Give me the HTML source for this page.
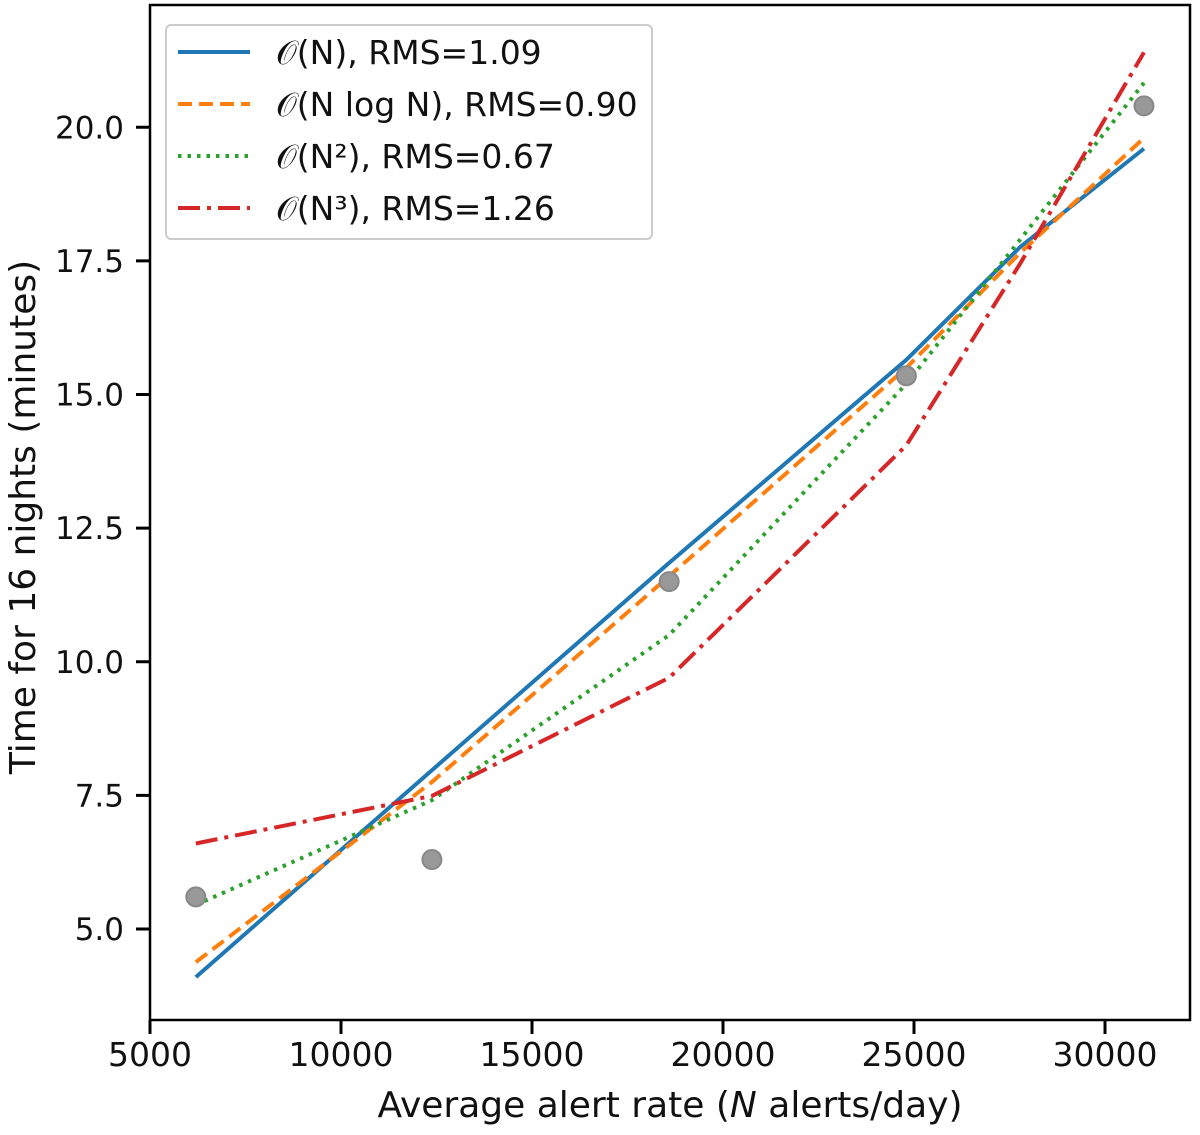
<!DOCTYPE html>
<html><head><meta charset="utf-8"><style>
body{margin:0;background:#fff;}
svg text{font-family:"DejaVu Sans","Liberation Sans",sans-serif;fill:#111;}
</style></head><body>
<svg id="chart" width="1200" height="1130">
<g id="plot"></g>
</svg>
<script>
const xTicks=[5000,10000,15000,20000,25000,30000];
const yTicks=[5.0,7.5,10.0,12.5,15.0,17.5,20.0];
const dataX=[6200,12380,18590,24800,31020];
const dataY=[5.6,6.3,11.5,15.35,20.4];
const fitX=[6200,12380,18590,24800,27780,31020];
const fitN=[4.1,7.97,11.85,15.65,17.76,19.6];
const fitNlogN=[4.38,7.75,11.6,15.5,17.65,19.8];
const fitN2=[5.45,7.41,10.5,15.2,17.9,20.83];
const fitN3=[6.6,7.49,9.7,14.05,17.45,21.4];
const seriesLabels=["\u{1D4AA}(N), RMS=1.09","\u{1D4AA}(N log N), RMS=0.90","\u{1D4AA}(N\u00B2), RMS=0.67","\u{1D4AA}(N\u00B3), RMS=1.26"];
const NS="http://www.w3.org/2000/svg";
const L=150,R=1190,T=5,B=1020;
const sx=v=>150+(v-5000)*0.0382;
const sy=v=>929-(v-5)*53.45;
const g=document.getElementById('plot');
function mk(t,a,p){const e=document.createElementNS(NS,t);for(const k in a)e.setAttribute(k,a[k]);(p||g).appendChild(e);return e;}
xTicks.forEach(v=>{
 const t=mk('line',{x1:sx(v),x2:sx(v),y1:B,y2:B+14,stroke:'#000','stroke-width':3});
 
 
 const tx=mk('text',{x:sx(v),y:B+46,'text-anchor':'middle','font-size':33});
 tx.textContent=v;
 
 
});
yTicks.forEach(v=>{
 const t=mk('line',{x1:L-14,x2:L,y1:sy(v),y2:sy(v),stroke:'#000','stroke-width':3});
 
 
 const tx=mk('text',{x:L-26,y:sy(v)+11,'text-anchor':'end','font-size':31});
 tx.textContent=v.toFixed(1);
 
 
});
const styles=[
 {c:'#1f77b4',d:'',arr:fitN},
 {c:'#ff7f0e',d:'14 7',arr:fitNlogN},
 {c:'#2ca02c',d:'3.5 6',arr:fitN2},
 {c:'#d62728',d:'22 7 4 7',arr:fitN3}];
const names=['fit-linear','fit-nlogn','fit-quadratic','fit-cubic'];
styles.forEach((s,i)=>{
 const pts=fitX.map((x,j)=>sx(x)+','+sy(s.arr[j])).join(' ');
 const p=mk('polyline',{points:pts,fill:'none',stroke:s.c,'stroke-width':4,'stroke-dasharray':s.d});
 
 
});
dataX.forEach((x,i)=>{
 const c=mk('circle',{cx:sx(x),cy:sy(dataY[i]),r:9.5,fill:'#999',stroke:'#888','stroke-width':2});
 
 
});
const fr=mk('rect',{x:L,y:T,width:R-L,height:B-T,fill:'none',stroke:'#000','stroke-width':2.5});


const lg=mk('g',{});


mk('rect',{x:166,y:25,width:486,height:214,rx:5,fill:'#fff',stroke:'#ccc','stroke-width':2},lg);
styles.forEach((s,i)=>{
 const y=52+i*52;
 const e=mk('g',{},lg);
 
 
 mk('line',{x1:178,x2:250,y1:y,y2:y,stroke:s.c,'stroke-width':4,'stroke-dasharray':s.d},e);
 const t=mk('text',{x:276,y:y+12,'font-size':33},e);
 t.textContent=seriesLabels[i];
});
const xl=mk('text',{x:670,y:1117,'text-anchor':'middle','font-size':36});
xl.innerHTML='Average alert rate (<tspan font-style="italic">N</tspan> alerts/day)';


const yl=mk('text',{x:0,y:0,'text-anchor':'middle','font-size':36,transform:'translate(35,517) rotate(-90)'});
yl.textContent='Time for 16 nights (minutes)';


</script>
</body></html>
